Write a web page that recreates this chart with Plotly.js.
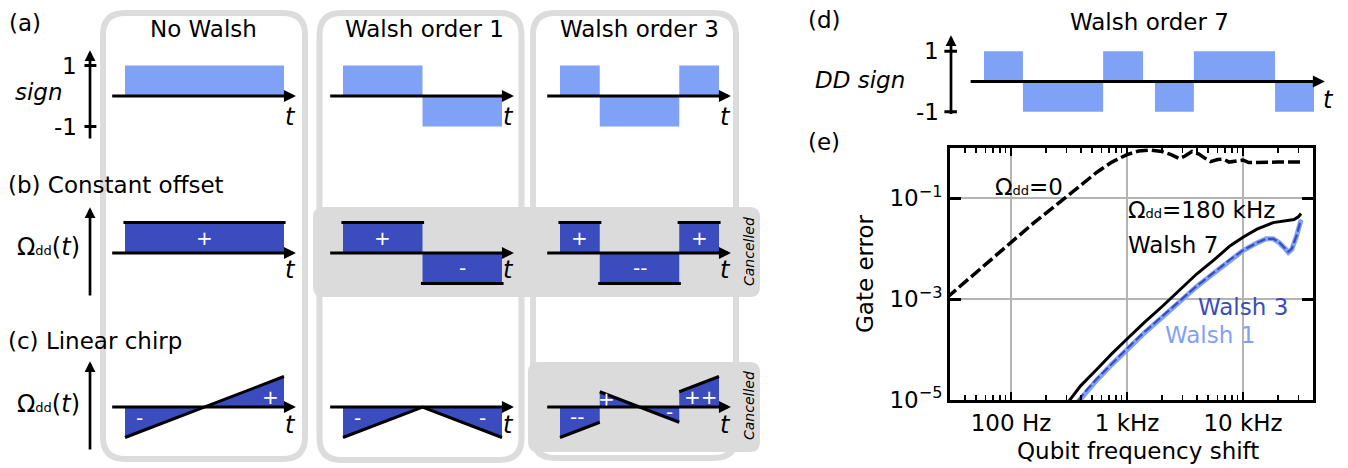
<!DOCTYPE html>
<html><head><meta charset="utf-8">
<script src="https://cdn.plot.ly/plotly-3.0.1.min.js"></script>
<style>body{margin:0;background:#fff;} #plot{width:1348px;height:468px;}</style>
</head><body><div id="plot"></div>
<script>
// ================= DATA =================
const columnTitles = ['No Walsh', 'Walsh order 1', 'Walsh order 3'];
// (a) Walsh sign sequences: segment boundaries (normalised time) and sign of each segment
const walshBounds = [[0, 1], [0, 0.5, 1], [0, 0.25, 0.75, 1]];
const walshSigns  = [[1], [1, -1], [1, -1, 1]];
const signTickVals = [1, -1];
const signTickText = ['1', '-1'];
// (b) constant offset seen after DD
const offsetValues = [[1], [1, -1], [1, -1, 1]];
const offsetLabels = [['+'], ['+', '-'], ['+', '--', '+']];
// (c) linear chirp seen after DD (polyline pieces)
const chirpT = [[[0, 1]], [[0, 0.5, 1]], [[0, 0.25], [0.25, 0.75], [0.75, 1]]];
const chirpV = [[[-1, 1]], [[-1, 0, -1]], [[-1, -0.5], [0.5, -0.5], [0.5, 1]]];
const chirpLabels = [['-', '+'], ['-', '-'], ['--', '+', '-', '++']];
const chirpLabelT = [[0.094, 0.918], [0.094, 0.88], [0.107, 0.29, 0.686, 0.887]];
const chirpLabelV = [[-0.36, 0.33], [-0.36, -0.36], [-0.33, 0.26, -0.16, 0.33]];
// (d) Walsh order 7 DD sign
const walsh7Bounds = [0, 0.118, 0.361, 0.482, 0.518, 0.636, 0.882, 1];
const walsh7Signs  = [1, -1, 1, 0, -1, 1, -1];
// (e) gate error vs qubit frequency shift
const freqDD0 = [28, 50, 100, 158, 282, 398, 550, 741, 1000, 1259, 1585, 1995, 2399, 2818, 3162, 3631, 4169, 4677, 5248, 6026, 6761, 7586, 8913, 10000, 11220, 14125, 19953, 31623];
const errDD0  = [1.07e-3, 3.39e-3, 0.0132, 0.0331, 0.0955, 0.182, 0.331, 0.525, 0.741, 0.871, 0.912, 0.851, 0.741, 0.617, 0.692, 0.851, 0.759, 0.631, 0.537, 0.589, 0.603, 0.525, 0.550, 0.575, 0.513, 0.525, 0.525, 0.525];
const freqW7 = [309, 398, 550, 741, 1000, 1413, 2042, 2818, 3981, 5623, 7762, 10000, 13183, 18197, 23442, 27542, 30200, 31623];
const errW7  = [8.9e-6, 1.91e-5, 4.07e-5, 8.32e-5, 1.62e-4, 3.47e-4, 7.41e-4, 1.51e-3, 3.16e-3, 6.03e-3, 0.0115, 0.0170, 0.0245, 0.0331, 0.0355, 0.0380, 0.0437, 0.0501];
const freqW3 = [376, 457, 550, 741, 1000, 1413, 2042, 2818, 3981, 5623, 7762, 10000, 13183, 15849, 18197, 20417, 22909, 24547, 26303, 28840, 31623];
const errW3  = [9.55e-6, 1.66e-5, 2.63e-5, 5.37e-5, 1.05e-4, 2.24e-4, 4.68e-4, 9.33e-4, 1.82e-3, 3.39e-3, 6.17e-3, 9.33e-3, 0.0132, 0.0158, 0.0158, 0.0135, 0.0105, 0.0087, 0.0100, 0.0178, 0.0380];
const errW1  = [9.0e-6, 1.58e-5, 2.5e-5, 5.1e-5, 1.0e-4, 2.14e-4, 4.5e-4, 9.0e-4, 1.77e-3, 3.3e-3, 6.05e-3, 9.2e-3, 0.0131, 0.0158, 0.0158, 0.0134, 0.0103, 0.0085, 0.0098, 0.0175, 0.0375];
const xTickVals = [100, 1000, 10000];
const xTickText = ['100 Hz', '1 kHz', '10 kHz'];
const xMinorVals = [40, 50, 60, 70, 80, 90, 200, 300, 400, 500, 600, 700, 800, 900, 2000, 3000, 4000, 5000, 6000, 7000, 8000, 9000, 20000, 30000, 40000];
const yTickVals = [1e-5, 1e-3, 1e-1];
const yTickText = ['10<sup>\u22125</sup>', '10<sup>\u22123</sup>', '10<sup>\u22121</sup>'];

// ================= STYLE / LAYOUT =================
const F = 'DejaVu Sans';
const W = 1348, H = 468;
const X = v => v / W, Y = v => 1 - v / H;
const lightBlue = '#7fa2f6', darkBlue = '#3b4cbf', boxGray = '#dcdcdc';
const OMEGA = '\u03a9<span style="font-size:13px">dd</span>';

const layout = {
  width: W, height: H, margin: {l: 0, r: 0, t: 0, b: 0},
  paper_bgcolor: 'white', plot_bgcolor: 'rgba(0,0,0,0)',
  showlegend: false, barmode: 'overlay', shapes: [], annotations: []
};
const data = [];

function ann(o) {
  const base = {showarrow: false, xanchor: 'center', yanchor: 'middle', font: {family: F, size: 23, color: 'black'}};
  if (o.font) o.font = Object.assign({}, base.font, o.font);
  layout.annotations.push(Object.assign(base, o));
}
function panel(k, t0, S, y0, U, tr, vr) {
  layout['xaxis' + k] = {domain: [X(t0 + tr[0] * S), X(t0 + tr[1] * S)], range: tr, visible: false, fixedrange: true, anchor: 'y' + k};
  layout['yaxis' + k] = {domain: [Y(y0 - vr[0] * U), Y(y0 - vr[1] * U)], range: vr, visible: false, fixedrange: true, anchor: 'x' + k};
}
function barsFrom(k, bounds, vals, color) {
  const xs = [], ws = [], ys = [];
  for (let i = 0; i < vals.length; i++) {
    xs.push((bounds[i] + bounds[i + 1]) / 2); ws.push(bounds[i + 1] - bounds[i]); ys.push(vals[i]);
  }
  data.push({type: 'bar', x: xs, y: ys, width: ws, xaxis: 'x' + k, yaxis: 'y' + k,
    marker: {color: color, line: {width: 0}}, hoverinfo: 'skip'});
}
function hArrow(k, a, b) {
  ann({xref: 'x' + k, yref: 'y' + k, x: b, y: 0, axref: 'x' + k, ayref: 'y' + k, ax: a, ay: 0,
    showarrow: true, arrowhead: 2, arrowsize: 0.8, arrowwidth: 3, arrowcolor: 'black', text: '', standoff: 0});
}
function vArrow(k, x, a, b) {
  ann({xref: 'x' + k, yref: 'y' + k, x: x, y: b, axref: 'x' + k, ayref: 'y' + k, ax: x, ay: a,
    showarrow: true, arrowhead: 2, arrowsize: 0.8, arrowwidth: 2.7, arrowcolor: 'black', text: '', standoff: 0});
}
function rr(x0, y0, x1, y1, r) {
  const P = (x, y) => X(x).toFixed(5) + ',' + Y(y).toFixed(5);
  return 'M' + P(x0 + r, y0) + ' L' + P(x1 - r, y0) + ' Q' + P(x1, y0) + ' ' + P(x1, y0 + r) +
    ' L' + P(x1, y1 - r) + ' Q' + P(x1, y1) + ' ' + P(x1 - r, y1) + ' L' + P(x0 + r, y1) +
    ' Q' + P(x0, y1) + ' ' + P(x0, y1 - r) + ' L' + P(x0, y0 + r) + ' Q' + P(x0, y0) + ' ' + P(x0 + r, y0) + ' Z';
}

// ---- background boxes ----
[[103, 13, 305, 459], [319.5, 13, 521.5, 460], [533, 13, 736, 458]].forEach(b => {
  layout.shapes.push({type: 'path', xref: 'paper', yref: 'paper', layer: 'below', path: rr(b[0], b[1], b[2], b[3], 22),
    line: {color: boxGray, width: 6}, fillcolor: 'rgba(0,0,0,0)'});
});
[[313, 207, 760, 297], [528, 362, 760, 452]].forEach(b => {
  layout.shapes.push({type: 'path', xref: 'paper', yref: 'paper', layer: 'below', path: rr(b[0], b[1], b[2], b[3], 10),
    line: {width: 0}, fillcolor: '#dbdbdb'});
});

// ---- panels (a)-(c) ----
const colT0 = [125, 343, 560], S = 159;
const rowY0 = [96, 253, 407], U = 30.5;
const tLabelV = [-0.69, -0.56, -0.59];
for (let r = 0; r < 3; r++) {
  for (let c = 0; c < 3; c++) {
    const k = 2 + r * 3 + c;
    panel(k, colT0[c], S, rowY0[r], U, [c === 0 ? -0.3 : -0.12, 1.12], [-1.7, 1.7]);
    if (r === 0) {
      barsFrom(k, walshBounds[c], walshSigns[c], lightBlue);
    } else if (r === 1) {
      barsFrom(k, walshBounds[c], offsetValues[c], darkBlue);
      const ex = [], ey = [];
      offsetValues[c].forEach((v, i) => { ex.push(walshBounds[c][i] - 0.01, walshBounds[c][i + 1] + 0.01, null); ey.push(v, v, null); });
      data.push({type: 'scatter', mode: 'lines', x: ex, y: ey, xaxis: 'x' + k, yaxis: 'y' + k,
        line: {color: 'black', width: 3}, hoverinfo: 'skip'});
      offsetValues[c].forEach((v, i) => ann({xref: 'x' + k, yref: 'y' + k,
        x: (walshBounds[c][i] + walshBounds[c][i + 1]) / 2, y: v * 0.5, text: offsetLabels[c][i],
        font: {size: 20, color: 'white'}}));
    } else {
      chirpT[c].forEach((ts, i) => data.push({type: 'scatter', mode: 'lines', x: ts, y: chirpV[c][i],
        xaxis: 'x' + k, yaxis: 'y' + k, fill: 'tozeroy', fillcolor: darkBlue,
        line: {color: 'black', width: 3}, hoverinfo: 'skip'}));
      chirpLabels[c].forEach((s, i) => ann({xref: 'x' + k, yref: 'y' + k, x: chirpLabelT[c][i], y: chirpLabelV[c][i],
        text: s, font: {size: 20, color: 'white'}}));
    }
    hArrow(k, -0.09, 1.075);
    ann({xref: 'x' + k, yref: 'y' + k, x: 1.04, y: tLabelV[r], text: '<i>t</i>', font: {size: 24}});
    if (c === 0) vArrow(k, -0.22, -1.44, 1.5);
    if (r === 0 && c === 0) {
      const tx = [], ty = [];
      signTickVals.forEach(v => { tx.push(-0.255, -0.18, null); ty.push(v, v, null); });
      data.push({type: 'scatter', mode: 'lines', x: tx, y: ty, xaxis: 'x' + k, yaxis: 'y' + k,
        line: {color: 'black', width: 3}, hoverinfo: 'skip'});
      signTickVals.forEach((v, i) => ann({xref: 'x' + k, yref: 'y' + k, x: -0.29, y: v, xanchor: 'right',
        text: signTickText[i]}));
    }
  }
}
// titles and labels
columnTitles.forEach((t, c) => ann({xref: 'paper', yref: 'paper', x: X([203, 424, 639][c]), y: Y(29), text: t}));
ann({xref: 'paper', yref: 'paper', x: X(7), y: Y(23), xanchor: 'left', text: '(a)'});
ann({xref: 'paper', yref: 'paper', x: X(6), y: Y(185), xanchor: 'left', text: '(b) Constant offset'});
ann({xref: 'paper', yref: 'paper', x: X(6), y: Y(341), xanchor: 'left', text: '(c) Linear chirp'});
ann({xref: 'paper', yref: 'paper', x: X(39), y: Y(92), text: '<i>sign</i>'});
ann({xref: 'paper', yref: 'paper', x: X(15), y: Y(247), xanchor: 'left', text: OMEGA + '(<i>t</i>)', font: {size: 24}});
ann({xref: 'paper', yref: 'paper', x: X(15), y: Y(404), xanchor: 'left', text: OMEGA + '(<i>t</i>)', font: {size: 24}});
ann({xref: 'paper', yref: 'paper', x: X(749), y: Y(252), textangle: -90, text: '<i>Cancelled</i>', font: {size: 14}});
ann({xref: 'paper', yref: 'paper', x: X(749), y: Y(406), textangle: -90, text: '<i>Cancelled</i>', font: {size: 14}});

// ---- panel (d) ----
panel(11, 984, 330, 81.5, 30.3, [-0.15, 1.1], [-1.7, 1.7]);
barsFrom(11, walsh7Bounds, walsh7Signs, lightBlue);
hArrow(11, -0.045, 1.033);
vArrow(11, -0.1, -1.12, 1.53);
(function () {
  const tx = [], ty = [];
  signTickVals.forEach(v => { tx.push(-0.12, -0.082, null); ty.push(v, v, null); });
  data.push({type: 'scatter', mode: 'lines', x: tx, y: ty, xaxis: 'x11', yaxis: 'y11', line: {color: 'black', width: 3}, hoverinfo: 'skip'});
  signTickVals.forEach((v, i) => ann({xref: 'x11', yref: 'y11', x: -0.13, y: v, xanchor: 'right', text: signTickText[i]}));
})();
ann({xref: 'x11', yref: 'y11', x: 1.045, y: -0.61, text: '<i>t</i>', font: {size: 24}});
ann({xref: 'paper', yref: 'paper', x: X(806), y: Y(20), xanchor: 'left', text: '(d)'});
ann({xref: 'paper', yref: 'paper', x: X(1149), y: Y(22), text: 'Walsh order 7'});
ann({xref: 'paper', yref: 'paper', x: X(860), y: Y(80), text: '<i>DD sign</i>'});

// ---- panel (e) ----
layout.xaxis = {type: 'log', domain: [X(950), X(1313)], range: [Math.log10(29.8), Math.log10(40100)], anchor: 'y',
  tickmode: 'array', tickvals: xTickVals, ticktext: xTickText, ticks: 'inside', ticklen: 8, tickwidth: 2, tickcolor: 'black',
  showline: true, linewidth: 3, linecolor: 'black', mirror: 'allticks', showgrid: true, gridcolor: '#b4b4b4', gridwidth: 2,
  zeroline: false, tickfont: {family: F, size: 23, color: 'black'}, fixedrange: true,
  minor: {tickmode: 'array', tickvals: xMinorVals, ticks: 'inside', ticklen: 5, tickwidth: 1.5, tickcolor: 'black', showgrid: false}};
layout.yaxis = {type: 'log', domain: [Y(400), Y(148)], range: [-5, 0], anchor: 'x',
  tickmode: 'array', tickvals: yTickVals, ticktext: yTickText, ticks: 'inside', ticklen: 11, tickwidth: 3, tickcolor: 'black',
  showline: true, linewidth: 3, linecolor: 'black', mirror: 'allticks', showgrid: true, gridcolor: '#b4b4b4', gridwidth: 2,
  zeroline: false, tickfont: {family: F, size: 23, color: 'black'}, fixedrange: true};
data.push({type: 'scatter', mode: 'lines', x: freqDD0, y: errDD0, line: {color: 'black', width: 3.5, dash: '12px,4px'}, hoverinfo: 'skip'});
data.push({type: 'scatter', mode: 'lines', x: freqW3, y: errW1, line: {color: lightBlue, width: 5}, hoverinfo: 'skip'});
data.push({type: 'scatter', mode: 'lines', x: freqW3, y: errW3, line: {color: darkBlue, width: 2.2, dash: '9px,3px'}, hoverinfo: 'skip'});
data.push({type: 'scatter', mode: 'lines', x: freqW7, y: errW7, line: {color: 'black', width: 3}, hoverinfo: 'skip'});
ann({xref: 'paper', yref: 'paper', x: X(806), y: Y(142), xanchor: 'left', text: '(e)'});
ann({xref: 'paper', yref: 'paper', x: X(865), y: Y(274), textangle: -90, text: 'Gate error'});
ann({xref: 'paper', yref: 'paper', x: X(1138), y: Y(451), text: 'Qubit frequency shift'});
ann({xref: 'paper', yref: 'paper', x: X(993), y: Y(187), xanchor: 'left', text: OMEGA + '=0'});
ann({xref: 'paper', yref: 'paper', x: X(1126), y: Y(210), xanchor: 'left', text: OMEGA + '=180 kHz'});
ann({xref: 'paper', yref: 'paper', x: X(1126), y: Y(245), xanchor: 'left', text: 'Walsh 7'});
ann({xref: 'paper', yref: 'paper', x: X(1196), y: Y(307), xanchor: 'left', text: 'Walsh 3', font: {color: darkBlue}});
ann({xref: 'paper', yref: 'paper', x: X(1163), y: Y(335), xanchor: 'left', text: 'Walsh 1', font: {color: lightBlue}});

Plotly.newPlot('plot', data, layout, {staticPlot: true, displayModeBar: false});
</script></body></html>
